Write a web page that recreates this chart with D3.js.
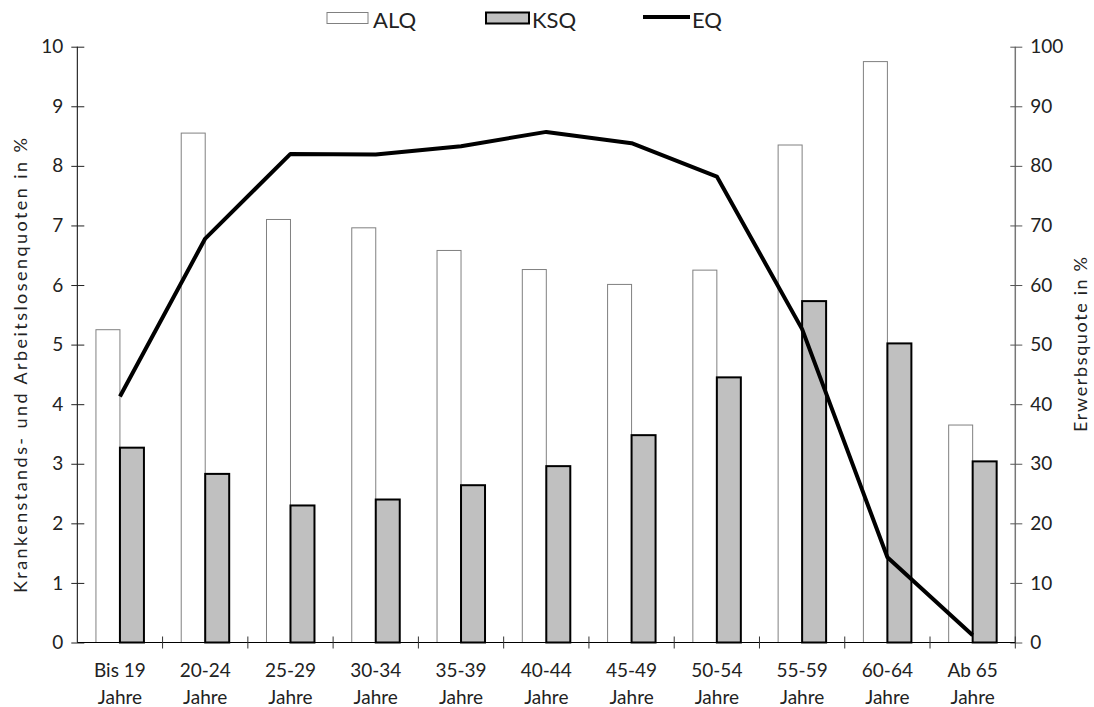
<!DOCTYPE html>
<html><head><meta charset="utf-8">
<script src="https://cdn.jsdelivr.net/npm/d3@7"></script>
<style>body{margin:0;background:#fff}svg{display:block}text{font-family:Lato,"Open Sans",sans-serif;fill:#222}</style>
</head><body><svg id="c" width="1094" height="707"></svg>
<script>
const categories = ["Bis 19 Jahre","20-24 Jahre","25-29 Jahre","30-34 Jahre","35-39 Jahre","40-44 Jahre","45-49 Jahre","50-54 Jahre","55-59 Jahre","60-64 Jahre","Ab 65 Jahre"];
const ALQ = [5.25, 8.55, 7.1, 6.96, 6.58, 6.26, 6.01, 6.25, 8.35, 9.75, 3.65];
const KSQ = [3.27, 2.83, 2.30, 2.40, 2.64, 2.96, 3.48, 4.45, 5.73, 5.02, 3.04];
const EQ  = [41.3, 67.8, 82.0, 81.9, 83.3, 85.7, 83.8, 78.2, 52.6, 14.3, 1.2];
const leftTicks = [0,1,2,3,4,5,6,7,8,9,10];
const rightTicks = [0,10,20,30,40,50,60,70,80,90,100];
const seriesNames = ["ALQ","KSQ"];

const svg = d3.select("#c");
const L = 77.3, R = 1015.3, T = 46.7, B = 642.5;
const x = d3.scaleBand().domain(categories).range([L, R]).padding(0);
const xi = d3.scaleBand().domain(seriesNames).range([0, x.bandwidth()]).paddingInner(0).paddingOuter(0.777);
const y = d3.scaleLinear().domain([0, 10]).range([B, T]);
const y2 = d3.scaleLinear().domain([0, 100]).range([B, T]);

// bars
const g = svg.append("g");
categories.forEach((c, i) => {
  g.append("rect").attr("x", x(c) + xi("ALQ")).attr("y", y(ALQ[i])).attr("width", xi.bandwidth()).attr("height", B - y(ALQ[i]))
    .attr("fill", "#fff").attr("stroke", "#808080").attr("stroke-width", 1);
});
categories.forEach((c, i) => {
  g.append("rect").attr("x", x(c) + xi("KSQ")).attr("y", y(KSQ[i])).attr("width", xi.bandwidth()).attr("height", B - y(KSQ[i]))
    .attr("fill", "#c0c0c0").attr("stroke", "#000").attr("stroke-width", 2);
});

// line
const line = d3.line().x((d, i) => x(categories[i]) + x.bandwidth() / 2).y(d => y2(d));
svg.append("path").datum(EQ).attr("d", line).attr("fill", "none").attr("stroke", "#000").attr("stroke-width", 4).attr("stroke-linejoin", "round");

// left axis
const ax = svg.append("g").attr("transform", `translate(${L},0)`)
  .call(d3.axisLeft(y).tickValues(leftTicks).tickFormat(d3.format("d")).tickSize(6).tickPadding(8));
ax.select(".domain").attr("stroke", "#000").attr("d", `M0,${T}V${B}`);
ax.selectAll(".tick line").attr("x1", -6).attr("x2", 7).attr("stroke", "#222");
ax.selectAll(".tick text").attr("font-size", 19).attr("x", -14).style("font-family", "Lato").attr("fill", "#222");

// right axis
const ar = svg.append("g").attr("transform", `translate(${R},0)`)
  .call(d3.axisRight(y2).tickValues(rightTicks).tickFormat(d3.format("d")).tickSize(6).tickPadding(8));
ar.select(".domain").attr("stroke", "#777").attr("stroke-width", 1.5).attr("d", `M0,${T}V${B}`);
ar.selectAll(".tick line").attr("x1", -5).attr("x2", 7).attr("stroke", "#555");
ar.selectAll(".tick text").attr("font-size", 19).attr("x", 15).style("font-family", "Lato").attr("fill", "#222");

// x axis
const xb = svg.append("g");
xb.append("line").attr("x1", L).attr("x2", R).attr("y1", B).attr("y2", B).attr("stroke", "#000");
const bounds = categories.slice(1).map(c => x(c)).concat([R]);
xb.selectAll("line.t").data(bounds).enter().append("line").attr("class", "t")
  .attr("x1", d => d).attr("x2", d => d).attr("y1", B - 6).attr("y2", B + 6).attr("stroke", "#333");
categories.forEach(c => {
  const k = c.lastIndexOf(" ");
  const cx = x(c) + x.bandwidth() / 2;
  const t = xb.append("text").attr("text-anchor", "middle").attr("font-size", 19);
  t.append("tspan").attr("x", cx).attr("y", B + 34).text(c.slice(0, k));
  t.append("tspan").attr("x", cx).attr("y", B + 61).text(c.slice(k + 1));
});

// axis titles
svg.append("text").attr("transform", `translate(27,365.5) rotate(-90)`).attr("text-anchor", "middle").attr("font-size", 18)
  .attr("textLength", 455).attr("lengthAdjust", "spacing")
  .text("Krankenstands- und Arbeitslosenquoten in %");
svg.append("text").attr("transform", `translate(1087,344.5) rotate(-90)`).attr("text-anchor", "middle").attr("font-size", 18)
  .attr("textLength", 175).attr("lengthAdjust", "spacing")
  .text("Erwerbsquote in %");

// legend
const lg = svg.append("g");
lg.append("rect").attr("x", 327).attr("y", 12.5).attr("width", 41).attr("height", 11).attr("fill", "#fff").attr("stroke", "#808080");
lg.append("text").attr("x", 373).attr("y", 28).attr("font-size", 22).text("ALQ");
lg.append("rect").attr("x", 486).attr("y", 12.5).attr("width", 43).attr("height", 11).attr("fill", "#c0c0c0").attr("stroke", "#000").attr("stroke-width", 2);
lg.append("text").attr("x", 532).attr("y", 28).attr("font-size", 22).text("KSQ");
lg.append("line").attr("x1", 643).attr("x2", 690).attr("y1", 17).attr("y2", 17).attr("stroke", "#000").attr("stroke-width", 4);
lg.append("text").attr("x", 692).attr("y", 28).attr("font-size", 22).text("EQ");
</script></body></html>
